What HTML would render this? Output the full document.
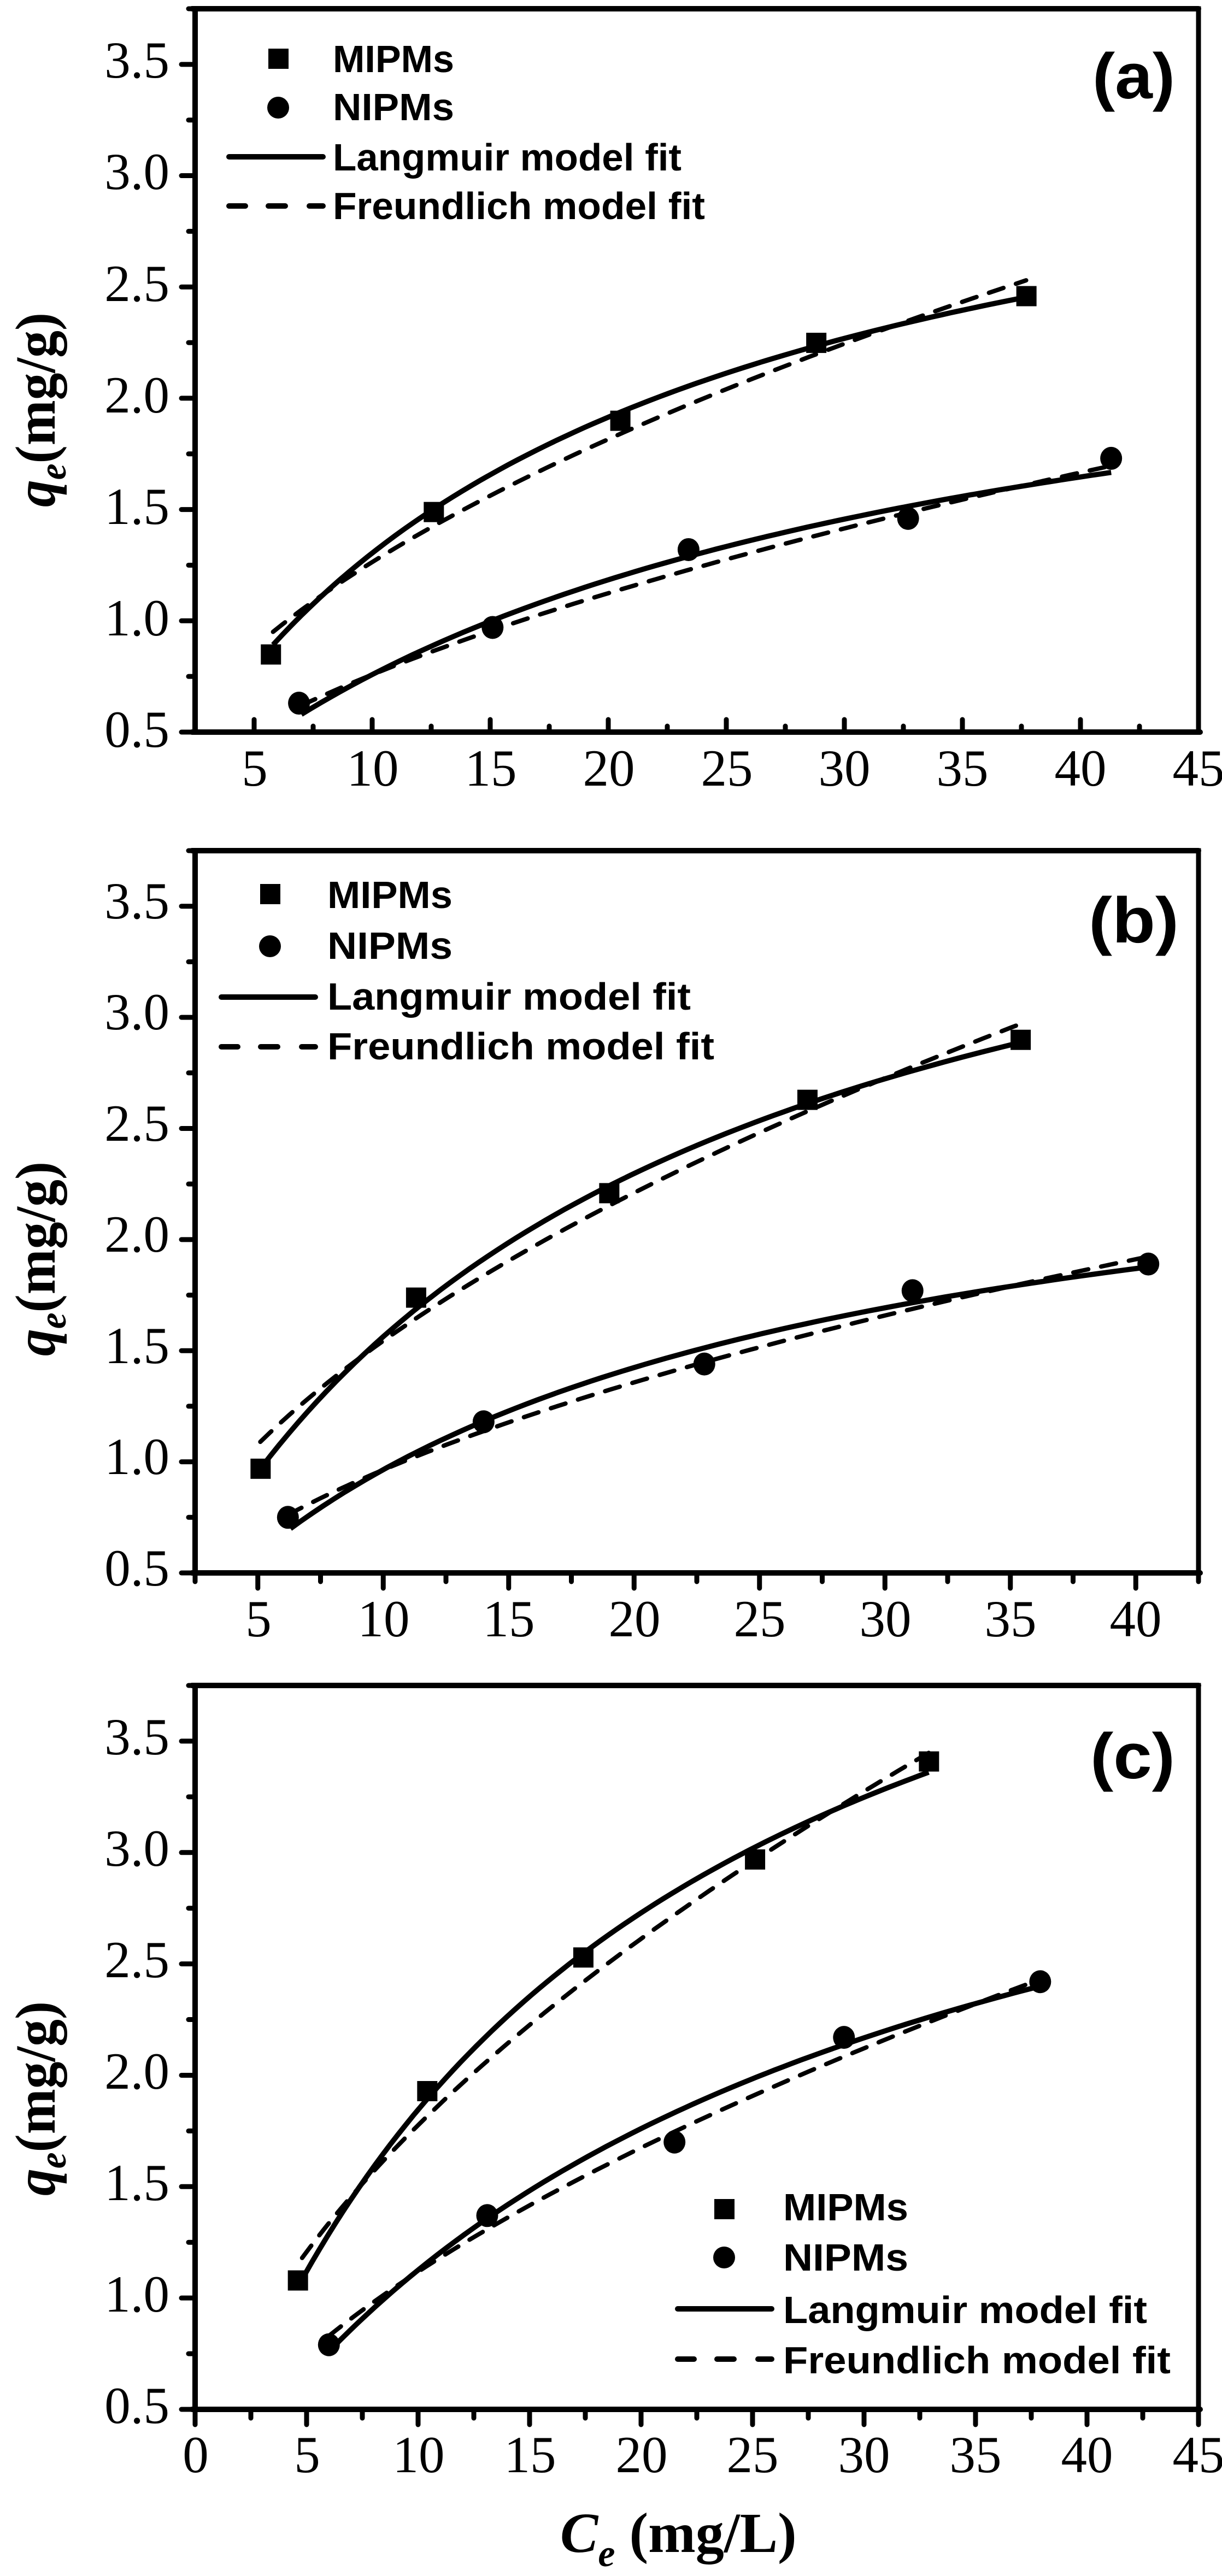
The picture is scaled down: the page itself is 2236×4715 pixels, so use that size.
<!DOCTYPE html>
<html><head><meta charset="utf-8"><style>
html,body{margin:0;padding:0;background:#fff}
svg{display:block}
.t{font-family:"Liberation Serif",serif;font-size:95px;fill:#000}
.l{font-family:"Liberation Sans",sans-serif;font-weight:bold;font-size:70px;fill:#000}
.p{font-family:"Liberation Sans",sans-serif;font-weight:bold;font-size:118px;fill:#000}
.ti{font-family:"Liberation Serif",serif;font-weight:bold;font-size:104px;fill:#000}
</style></head><body>
<svg id="s" width="2236" height="4715" viewBox="0 0 2236 4715" xmlns="http://www.w3.org/2000/svg">
<g id="geo"></g>
<!-- Panel a labels -->
<g class="t" text-anchor="end">
<text x="310" y="1367">0.5</text><text x="310" y="1163">1.0</text><text x="310" y="959">1.5</text><text x="310" y="755">2.0</text><text x="310" y="551">2.5</text><text x="310" y="346">3.0</text><text x="310" y="142">3.5</text>
</g>
<g class="t" text-anchor="middle">
<text x="466" y="1438">5</text><text x="682" y="1438">10</text><text x="898" y="1438">15</text><text x="1114" y="1438">20</text><text x="1330" y="1438">25</text><text x="1545" y="1438">30</text><text x="1761" y="1438">35</text><text x="1977" y="1438">40</text><text x="2193" y="1438">45</text>
</g>
<text class="l" x="609" y="132" textLength="222" lengthAdjust="spacingAndGlyphs">MIPMs</text>
<text class="l" x="609" y="220" textLength="222" lengthAdjust="spacingAndGlyphs">NIPMs</text>
<text class="l" x="609" y="312" textLength="638" lengthAdjust="spacingAndGlyphs">Langmuir model fit</text>
<text class="l" x="609" y="401" textLength="681" lengthAdjust="spacingAndGlyphs">Freundlich model fit</text>
<text class="p" x="1999" y="180" textLength="151" lengthAdjust="spacingAndGlyphs">(a)</text>
<text class="ti" transform="translate(100,750) rotate(-90)" text-anchor="middle" textLength="356" lengthAdjust="spacingAndGlyphs"><tspan font-style="italic">q</tspan><tspan font-style="italic" font-size="70" dy="20">e</tspan><tspan dy="-20">(mg/g)</tspan></text>

<!-- Panel b labels -->
<g class="t" text-anchor="end">
<text x="310" y="2902">0.5</text><text x="310" y="2698">1.0</text><text x="310" y="2495">1.5</text><text x="310" y="2291">2.0</text><text x="310" y="2088">2.5</text><text x="310" y="1884">3.0</text><text x="310" y="1681">3.5</text>
</g>
<g class="t" text-anchor="middle">
<text x="473" y="2995">5</text><text x="702" y="2995">10</text><text x="931" y="2995">15</text><text x="1161" y="2995">20</text><text x="1390" y="2995">25</text><text x="1620" y="2995">30</text><text x="1849" y="2995">35</text><text x="2078" y="2995">40</text>
</g>
<text class="l" x="599" y="1662" textLength="229" lengthAdjust="spacingAndGlyphs">MIPMs</text>
<text class="l" x="599" y="1755" textLength="229" lengthAdjust="spacingAndGlyphs">NIPMs</text>
<text class="l" x="599" y="1848" textLength="665" lengthAdjust="spacingAndGlyphs">Langmuir model fit</text>
<text class="l" x="599" y="1939" textLength="708" lengthAdjust="spacingAndGlyphs">Freundlich model fit</text>
<text class="p" x="1992" y="1725" textLength="165" lengthAdjust="spacingAndGlyphs">(b)</text>
<text class="ti" transform="translate(100,2304) rotate(-90)" text-anchor="middle" textLength="356" lengthAdjust="spacingAndGlyphs"><tspan font-style="italic">q</tspan><tspan font-style="italic" font-size="70" dy="20">e</tspan><tspan dy="-20">(mg/g)</tspan></text>

<!-- Panel c labels -->
<g class="t" text-anchor="end">
<text x="310" y="4435">0.5</text><text x="310" y="4231">1.0</text><text x="310" y="4027">1.5</text><text x="310" y="3823">2.0</text><text x="310" y="3619">2.5</text><text x="310" y="3415">3.0</text><text x="310" y="3211">3.5</text>
</g>
<g class="t" text-anchor="middle">
<text x="358" y="4525">0</text><text x="562" y="4525">5</text><text x="766" y="4525">10</text><text x="970" y="4525">15</text><text x="1174" y="4525">20</text><text x="1377" y="4525">25</text><text x="1581" y="4525">30</text><text x="1785" y="4525">35</text><text x="1989" y="4525">40</text><text x="2193" y="4525">45</text>
</g>
<text class="l" x="1433" y="4064" textLength="229" lengthAdjust="spacingAndGlyphs">MIPMs</text>
<text class="l" x="1433" y="4156" textLength="229" lengthAdjust="spacingAndGlyphs">NIPMs</text>
<text class="l" x="1433" y="4252" textLength="666" lengthAdjust="spacingAndGlyphs">Langmuir model fit</text>
<text class="l" x="1433" y="4344" textLength="709" lengthAdjust="spacingAndGlyphs">Freundlich model fit</text>
<text class="p" x="1995" y="3255" textLength="155" lengthAdjust="spacingAndGlyphs">(c)</text>
<text class="ti" transform="translate(100,3841) rotate(-90)" text-anchor="middle" textLength="356" lengthAdjust="spacingAndGlyphs"><tspan font-style="italic">q</tspan><tspan font-style="italic" font-size="70" dy="20">e</tspan><tspan dy="-20">(mg/g)</tspan></text>

<text class="ti" x="1025" y="4671" font-size="104"><tspan font-style="italic">C</tspan><tspan font-style="italic" font-size="70" dy="26">e</tspan><tspan dy="-26"> (mg/L)</tspan></text>
</svg>
<script>
(function(){
var NS="http://www.w3.org/2000/svg",g=document.getElementById("geo");
function el(n,a){var e=document.createElementNS(NS,n);for(var k in a)e.setAttribute(k,a[k]);g.appendChild(e);return e;}
var L=357,R=2193;
var panels=[
 {top:16,bot:1340,x0:2.5,x1:45,xin:true,
  M:[[5.7,0.85],[12.6,1.49],[20.5,1.90],[28.8,2.25],[37.7,2.46]],
  N:[[6.9,0.63],[15.1,0.97],[23.4,1.32],[32.7,1.46],[41.3,1.73]],
  ML:[3.6,17.6,5.8,37.7],MF:[0.379,0.523,5.8,37.7],
  NL:[2.70,25.6,7.0,41.3],NF:[0.205,0.568,7.0,41.3],
  leg:{sx:509,y:[107,197,287,377],lx:419}},
 {top:1557,bot:2879,x0:2.5,x1:42.5,xin:false,
  M:[[5.1,0.97],[11.3,1.74],[19,2.21],[26.9,2.63],[35.4,2.90]],
  N:[[6.2,0.75],[14,1.18],[22.8,1.44],[31.1,1.77],[40.5,1.89]],
  ML:[4.33,17.7,5.1,35.4],MF:[0.469,0.5175,5.1,35.4],
  NL:[2.72,18.2,6.3,40.5],NF:[0.309,0.494,6.2,40.5],
  leg:{sx:494,y:[1636,1732,1825,1916],lx:405}},
 {top:3085,bot:4410,x0:0,x1:45,xin:false,
  M:[[4.6,1.08],[10.4,1.93],[17.4,2.53],[25.1,2.97],[32.9,3.41]],
  N:[[6.0,0.79],[13.1,1.37],[21.5,1.70],[29.1,2.17],[37.9,2.42]],
  ML:[5.24,18.4,4.9,32.9],MF:[0.4925,0.557,4.8,32.9],
  NL:[4.04,25.9,6.1,37.9],NF:[0.292,0.583,6.0,37.9],
  leg:{sx:1325,y:[4043,4132,4226,4318],lx:1240}}
];
panels.forEach(function(p){
 var H=p.bot-p.top;
 function X(v){return L+(v-p.x0)/(p.x1-p.x0)*(R-L);}
 function Y(v){return p.bot-(v-0.5)/3.25*H;}
 el("rect",{x:L,y:p.top,width:R-L,height:H,fill:"none",stroke:"#000","stroke-width":9});
 el("line",{x1:L-6,y1:p.bot,x2:R+3,y2:p.bot,stroke:"#000","stroke-width":10,"stroke-linecap":"round"});
 el("line",{x1:L,y1:p.top-4,x2:L,y2:p.bot+4,stroke:"#000","stroke-width":10});
 el("line",{x1:L-6,y1:p.top,x2:R,y2:p.top,stroke:"#000","stroke-width":10,"stroke-linecap":"round"});
 for(var v=0.5;v<=3.76;v+=0.25){var y=Y(v),maj=Math.abs(v*2-Math.round(v*2))<1e-6;
  el("line",{x1:L-(maj?25:12),y1:y,x2:L,y2:y,stroke:"#000","stroke-width":9,"stroke-linecap":"round"});}
 for(var xv=Math.ceil(p.x0/2.5)*2.5;xv<=p.x1+1e-6;xv+=2.5){var x=X(xv),maj=Math.abs(xv/5-Math.round(xv/5))<1e-6;
  var len=maj?(p.xin?23:28):(p.xin?11:16);
  el("line",{x1:x,y1:p.bot,x2:x,y2:p.bot+(p.xin?-len:len),stroke:"#000","stroke-width":9,"stroke-linecap":"round"});}
 function curve(f,a,b,dash){var d="";for(var i=0;i<=80;i++){var c=a+(b-a)*i/80;d+=(i?"L":"M")+X(c).toFixed(1)+","+Y(f(c)).toFixed(1);}
  var at={d:d,fill:"none",stroke:"#000","stroke-width":dash?8:9.5};if(dash){at["stroke-dasharray"]="28,24";at["stroke-linecap"]="round";}el("path",at);}
 [p.ML,p.NL].forEach(function(q){curve(function(c){return q[0]*c/(q[1]+c);},q[2],q[3],false);});
 [p.MF,p.NF].forEach(function(q){curve(function(c){return q[0]*Math.pow(c,q[1]);},q[2],q[3],true);});
 p.M.forEach(function(d){el("rect",{x:X(d[0])-18,y:Y(d[1])-18,width:37,height:37,fill:"#000"});});
 p.N.forEach(function(d){el("ellipse",{cx:X(d[0]),cy:Y(d[1]),rx:20,ry:21,fill:"#000"});});
 var lg=p.leg;
 el("rect",{x:lg.sx-18,y:lg.y[0]-18,width:37,height:37,fill:"#000"});
 el("ellipse",{cx:lg.sx,cy:lg.y[1],rx:20,ry:20,fill:"#000"});
 el("line",{x1:lg.lx,y1:lg.y[2],x2:lg.lx+172,y2:lg.y[2],stroke:"#000","stroke-width":10,"stroke-linecap":"round"});
 el("line",{x1:lg.lx,y1:lg.y[3],x2:lg.lx+30,y2:lg.y[3],stroke:"#000","stroke-width":10,"stroke-linecap":"round"});
 el("line",{x1:lg.lx+72,y1:lg.y[3],x2:lg.lx+103,y2:lg.y[3],stroke:"#000","stroke-width":10,"stroke-linecap":"round"});
 el("line",{x1:lg.lx+147,y1:lg.y[3],x2:lg.lx+172,y2:lg.y[3],stroke:"#000","stroke-width":10,"stroke-linecap":"round"});
});
})();
</script>
</body></html>
